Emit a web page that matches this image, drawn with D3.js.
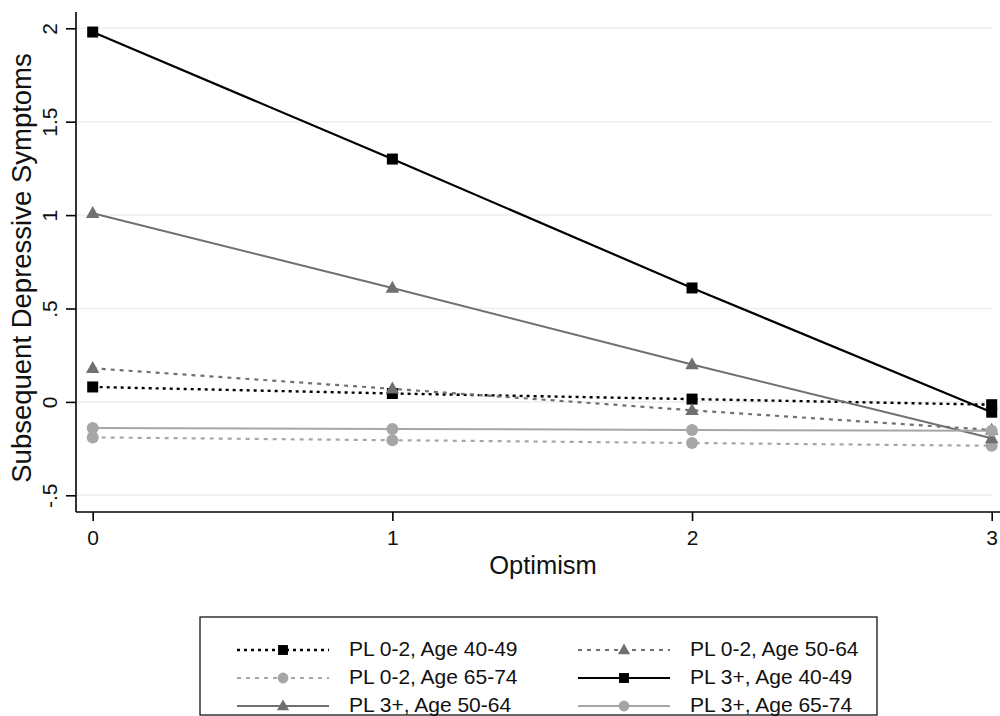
<!DOCTYPE html>
<html>
<head>
<meta charset="utf-8">
<script src="https://cdn.jsdelivr.net/npm/d3@7"></script>
<style>
  html, body { margin: 0; padding: 0; background: #fff; }
  svg { display: block; font-family: "Liberation Sans", Arial, sans-serif; }
</style>
</head>
<body>
<svg id="chart" width="1000" height="716"></svg>
<script>
// ---- data ----
const optimism = [0, 1, 2, 3];
const yTicks = [-0.5, 0, 0.5, 1, 1.5, 2];
const yTickLabels = ["-.5", "0", ".5", "1", "1.5", "2"];
const xTicks = [0, 1, 2, 3];

const seriesNames = [
  "PL 0-2, Age 40-49", "PL 0-2, Age 50-64", "PL 0-2, Age 65-74",
  "PL 3+, Age 40-49", "PL 3+, Age 50-64", "PL 3+, Age 65-74"
];
const pl02_40_49 = [0.08, 0.045, 0.015, -0.015];
const pl02_50_64 = [0.18, 0.07, -0.045, -0.15];
const pl02_65_74 = [-0.19, -0.205, -0.22, -0.235];
const pl3_40_49  = [1.98, 1.30, 0.61, -0.055];
const pl3_50_64  = [1.01, 0.61, 0.20, -0.195];
const pl3_65_74  = [-0.14, -0.145, -0.15, -0.155];
const seriesValues = [pl02_40_49, pl02_50_64, pl02_65_74, pl3_40_49, pl3_50_64, pl3_65_74];

// ---- styles ----
const styles = [
  { color: "#000000", dash: "3,4", width: 2.4, marker: "square" },
  { color: "#707070", dash: "4,5", width: 2.2, marker: "triangle" },
  { color: "#a6a6a6", dash: "4,5", width: 2.2, marker: "circle" },
  { color: "#000000", dash: null,  width: 2.2, marker: "square" },
  { color: "#707070", dash: null,  width: 2.0, marker: "triangle" },
  { color: "#a6a6a6", dash: null,  width: 2.0, marker: "circle" }
];

const svg = d3.select("#chart");
const plotLeft = 76, plotRight = 1000, plotTop = 12, plotBottom = 512;

const x = d3.scaleLinear().domain([0, 3]).range([92.7, 991.7]);
const y = d3.scaleLinear().domain([0, 2]).range([401.9, 28.3]);

// gridlines
svg.append("g").selectAll("line").data(yTicks).join("line")
  .attr("x1", plotLeft + 1).attr("x2", 992)
  .attr("y1", d => y(d)).attr("y2", d => y(d))
  .attr("stroke", "#e8f0f1").attr("stroke-width", 1.5);

// y axis
const yAxis = d3.axisLeft(y).tickValues(yTicks).tickSize(10)
  .tickFormat((d, i) => yTickLabels[i]);
const gy = svg.append("g").attr("transform", `translate(${plotLeft},0)`).call(yAxis);
gy.select(".domain").attr("d", `M0,${plotTop}V${plotBottom}`).attr("stroke", "#000").attr("stroke-width", 1.6);
gy.selectAll(".tick line").attr("stroke", "#000").attr("stroke-width", 1.6);
gy.selectAll(".tick text")
  .attr("font-size", 21).attr("fill", "#111")
  .attr("x", null).attr("dy", null)
  .attr("text-anchor", "middle")
  .attr("transform", "translate(-19,0) rotate(-90)")
  .attr("y", 0);

// x axis
const xAxis = d3.axisBottom(x).tickValues(xTicks).tickSize(9).tickFormat(d3.format("d"));
const gx = svg.append("g").attr("transform", `translate(0,${plotBottom})`).call(xAxis);
gx.select(".domain").attr("d", `M${plotLeft},0H${plotRight}`).attr("stroke", "#000").attr("stroke-width", 1.6);
gx.selectAll(".tick line").attr("stroke", "#000").attr("stroke-width", 1.6);
gx.selectAll(".tick text").attr("font-size", 21).attr("fill", "#111").attr("y", 18);

// axis titles
svg.append("text").attr("transform", "translate(24,268) rotate(-90)")
  .attr("text-anchor", "middle").attr("dominant-baseline", "middle")
  .attr("font-size", 27.5).attr("fill", "#111").text("Subsequent Depressive Symptoms");
svg.append("text").attr("x", 543).attr("y", 574)
  .attr("text-anchor", "middle").attr("font-size", 25.5).attr("fill", "#111").text("Optimism");

// markers
function drawMarker(g, type, cx, cy, color, scale) {
  const s = scale || 1;
  if (type === "square") {
    g.append("rect").attr("x", cx - 5.5 * s).attr("y", cy - 5.5 * s)
      .attr("width", 11 * s).attr("height", 11 * s).attr("fill", color);
  } else if (type === "triangle") {
    const h = 12 * s, w = 13.5 * s;
    g.append("path")
      .attr("d", `M${cx},${cy - h * 0.6}L${cx + w / 2},${cy + h * 0.4}L${cx - w / 2},${cy + h * 0.4}Z`)
      .attr("fill", color);
  } else {
    g.append("circle").attr("cx", cx).attr("cy", cy).attr("r", 6 * s).attr("fill", color);
  }
}

const line = d3.line().x((d, i) => x(optimism[i])).y(d => y(d));
const plot = svg.append("g");
seriesValues.forEach((vals, k) => {
  const st = styles[k];
  const g = plot.append("g");
  g.append("path").datum(vals).attr("d", line)
    .attr("fill", "none").attr("stroke", st.color).attr("stroke-width", st.width)
    .attr("stroke-dasharray", st.dash);
  vals.forEach((v, i) => drawMarker(g, st.marker, x(optimism[i]), y(v), st.color));
});

// legend
const lg = svg.append("g");
lg.append("rect").attr("x", 200).attr("y", 617).attr("width", 677).attr("height", 98)
  .attr("fill", "#fff").attr("stroke", "#000").attr("stroke-width", 1.2);
const colX = [237, 578];
const rowY = [650, 678, 706];
seriesNames.forEach((name, k) => {
  const st = styles[k];
  const cx = colX[k % 2], cy = rowY[Math.floor(k / 2)];
  lg.append("line").attr("x1", cx).attr("x2", cx + 92).attr("y1", cy).attr("y2", cy)
    .attr("stroke", st.color).attr("stroke-width", st.width).attr("stroke-dasharray", st.dash);
  drawMarker(lg, st.marker, cx + 46, cy, st.color, 0.9);
  lg.append("text").attr("x", cx + 112).attr("y", cy).attr("dominant-baseline", "middle")
    .attr("font-size", 21).attr("fill", "#111").text(name);
});
</script>
</body>
</html>
